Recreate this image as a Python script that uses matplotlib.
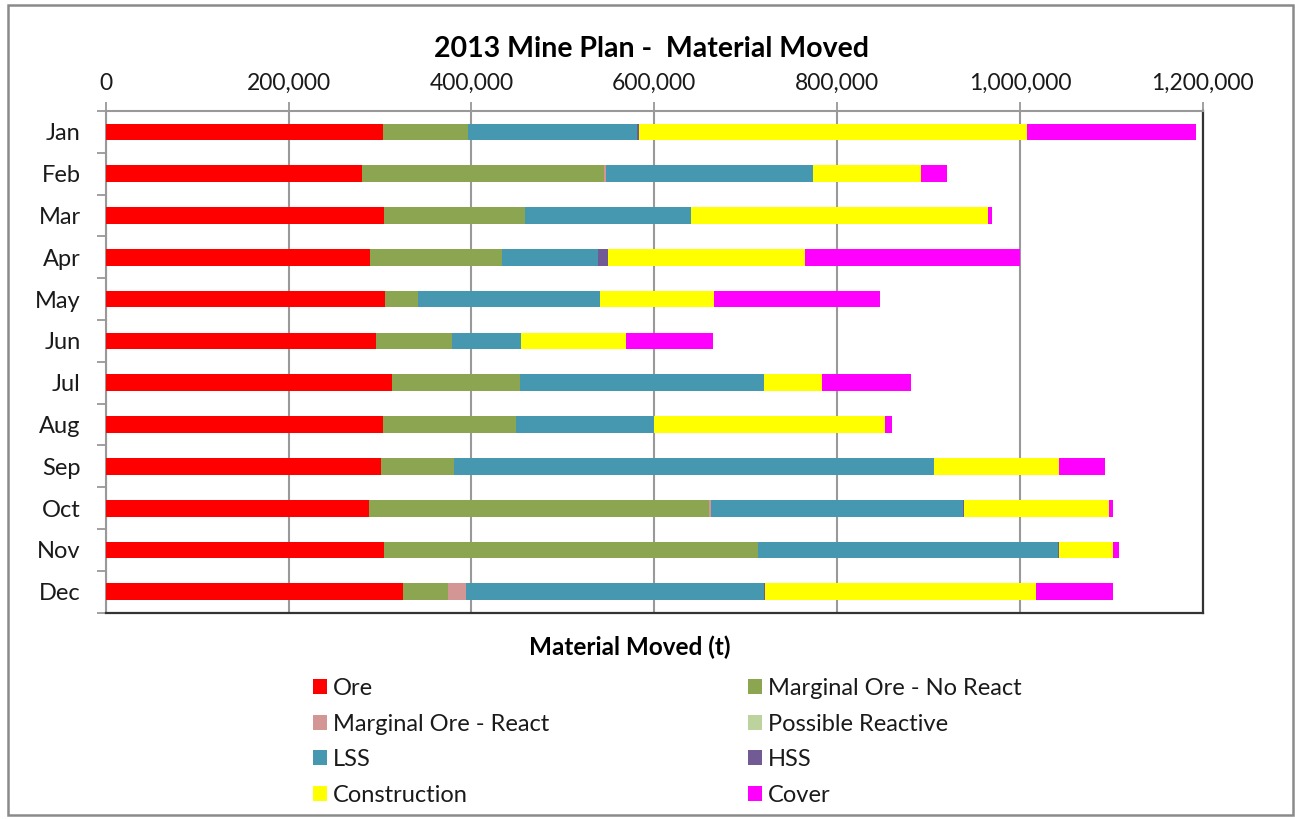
import matplotlib
matplotlib.use("Agg")
import matplotlib.pyplot as plt
from matplotlib.patches import Patch, Rectangle
from matplotlib.ticker import FuncFormatter, FixedLocator
import numpy as np

plt.rcParams['font.family'] = ['Lato', 'DejaVu Sans']

months = ["Jan", "Feb", "Mar", "Apr", "May", "Jun", "Jul", "Aug", "Sep", "Oct", "Nov", "Dec"]

ore = [303000, 280000, 304000, 289000, 305500, 295600, 312800, 303000, 301000, 287600, 304000, 325000]
marginal_no_react = [93500, 265000, 154500, 144000, 36500, 82800, 139900, 145600, 80000, 372400, 410000, 49000]
marginal_react = [0, 2000, 0, 0, 0, 0, 0, 0, 0, 2500, 0, 19700]
possible_reactive = [0, 0, 0, 0, 0, 0, 0, 0, 0, 0, 0, 0]
lss = [185100, 227000, 181500, 105000, 199000, 75600, 267000, 150900, 525500, 275000, 327700, 326000]
hss = [2000, 0, 0, 11500, 0, 0, 0, 0, 0, 1000, 1000, 1000]
construction = [424400, 118000, 325000, 215000, 124000, 115000, 64300, 253500, 136500, 159500, 59300, 297300]
cover = [185000, 28000, 4000, 236000, 182000, 95000, 97400, 6600, 50000, 4000, 6000, 84000]

series_names = ["Ore", "Marginal Ore - No React", "Marginal Ore - React", "Possible Reactive",
                "LSS", "HSS", "Construction", "Cover"]
series_values = [ore, marginal_no_react, marginal_react, possible_reactive, lss, hss, construction, cover]
series_colors = ["#FF0000", "#8BA550", "#D49595", "#BCD39D", "#4598B0", "#725B95", "#FFFF00", "#FF00FF"]

x_ticks = [0, 200000, 400000, 600000, 800000, 1000000, 1200000]

W, H = 1295, 819
fig = plt.figure(figsize=(W / 100, H / 100), dpi=100)
fig.patch.set_facecolor("white")

# outer chart border
fig.patches.append(Rectangle((8 / W, 4 / H), (1293 - 8) / W, (814 - 4) / H, transform=fig.transFigure,
                             fill=False, edgecolor="#8a8a8a", linewidth=1.8, zorder=0))

left, right, top, bottom = 105.7, 1202.7, 111, 612.7
ax = fig.add_axes([left / W, 1 - bottom / H, (right - left) / W, (bottom - top) / H])

y = np.arange(len(months))
cum = np.zeros(len(months))
handles = []
for name, vals, col in zip(series_names, series_values, series_colors):
    v = np.array(vals, dtype=float)
    ax.barh(y, v, left=cum, height=0.4, color=col, edgecolor="none", zorder=3)
    cum += v
    handles.append(Patch(facecolor=col, edgecolor="none", label=name))

ax.set_ylim(len(months) - 0.5, -0.5)
ax.set_xlim(0, 1200000)

ax.xaxis.tick_top()
ax.set_xticks(x_ticks)
ax.xaxis.set_major_formatter(FuncFormatter(lambda v, p: f"{int(v):,}"))
ax.tick_params(axis="x", which="major", length=6.5, width=1.3, color="#999999",
               labelsize=16.5, labelcolor="#1a1a1a", pad=6)
ax.grid(axis="x", color="#999999", linewidth=1.5, zorder=0)
ax.set_axisbelow(True)

ax.set_yticks(y)
ax.set_yticklabels(months)
ax.yaxis.set_minor_locator(FixedLocator(np.arange(-0.5, len(months), 1.0)))
ax.tick_params(axis="y", which="major", length=0, labelsize=17, labelcolor="#1a1a1a", pad=18)
ax.tick_params(axis="y", which="minor", length=6.5, width=1.3, color="#999999")

for s in ["top", "left"]:
    ax.spines[s].set_color("#999999")
    ax.spines[s].set_linewidth(1.5)
for s in ["right", "bottom"]:
    ax.spines[s].set_color("#333333")
    ax.spines[s].set_linewidth(1.6)

fig.text(651 / W, 1 - 49 / H, "2013 Mine Plan -  Material Moved", ha="center", va="center",
         fontsize=20.5, fontweight="bold", color="#000000")
fig.text(630 / W, 1 - 647 / H, "Material Moved (t)", ha="center", va="center",
         fontsize=17.5, fontweight="bold", color="#000000")

col1 = [handles[0], handles[2], handles[4], handles[6]]
col2 = [handles[1], handles[3], handles[5], handles[7]]
for hs, xpos in [(col1, 313), (col2, 748)]:
    leg = fig.legend(handles=hs, loc="upper left", bbox_to_anchor=(xpos / W, 1 - 678 / H),
                     frameon=False, fontsize=17, handlelength=0.6, handleheight=0.6,
                     handletextpad=0.25, labelspacing=0.62, borderpad=0, borderaxespad=0)
    for t in leg.get_texts():
        t.set_color("#1a1a1a")

fig.savefig("out.png", dpi=100)
